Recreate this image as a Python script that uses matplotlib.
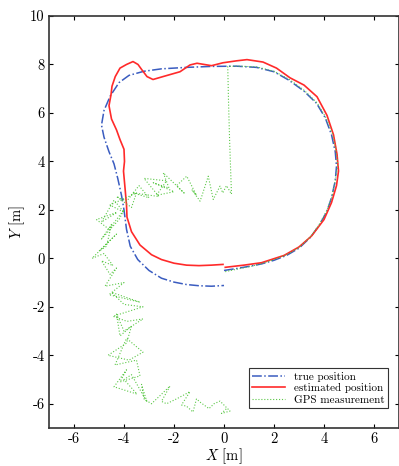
import numpy as np
import matplotlib.pyplot as plt

plt.rcParams['font.family'] = 'serif'
plt.rcParams['font.serif'] = ['cmr10', 'DejaVu Serif']
plt.rcParams['mathtext.fontset'] = 'cm'
plt.rcParams['axes.unicode_minus'] = False
plt.rcParams['axes.formatter.use_mathtext'] = False

# true position (blue dash-dot)
true_x = [0.0, 0.5, 1.0, 1.5, 2.0, 2.5, 3.0, 3.45, 3.8, 4.1, 4.3, 4.45, 4.5, 4.45, 4.3,
          4.05, 3.7, 3.2, 2.6, 2.0, 1.3, 0.5, -0.5, -1.5, -2.5, -3.2, -3.8, -4.2, -4.55,
          -4.8, -4.9, -4.8, -4.6, -4.4, -4.25, -4.1, -4.0, -3.9, -3.75, -3.45, -3.0,
          -2.5, -2.0, -1.5, -1.0, -0.5, 0.0]
true_y = [-0.5, -0.42, -0.33, -0.23, -0.08, 0.12, 0.42, 0.86, 1.35, 1.9, 2.5, 3.2, 3.8,
          4.4, 5.1, 5.8, 6.4, 6.9, 7.35, 7.7, 7.88, 7.93, 7.92, 7.88, 7.82, 7.72, 7.55,
          7.25, 6.7, 6.1, 5.5, 5.0, 4.4, 3.9, 3.3, 2.6, 2.0, 1.2, 0.5, -0.05, -0.5,
          -0.82, -0.98, -1.08, -1.13, -1.15, -1.12]

# estimated position (red)
est_x = [0.05, 0.8, 1.5, 2.4, 3.0, 3.5, 4.0, 4.3, 4.5, 4.58, 4.52, 4.38, 4.12, 3.72,
         3.2, 2.64, 2.1, 1.56, 0.92, 0.5, -0.04, -0.5, -1.08, -1.36, -1.76, -2.1,
         -2.44, -2.84, -3.08, -3.3, -3.44, -3.64, -3.9, -4.16, -4.35, -4.48, -4.52,
         -4.6, -4.5, -4.3, -4.16, -4.0, -3.98, -4.02, -3.95, -3.9, -3.88, -3.7, -3.36,
         -2.9, -2.5, -2.0, -1.5, -1.0, -0.5, -0.04]
est_y = [-0.37, -0.28, -0.18, 0.12, 0.47, 0.92, 1.6, 2.3, 3.0, 3.6, 4.3, 5.1, 5.9,
         6.67, 7.15, 7.45, 7.85, 8.1, 8.2, 8.15, 8.07, 7.95, 8.05, 7.98, 7.7, 7.6,
         7.5, 7.38, 7.5, 7.8, 8.0, 8.12, 8.0, 7.85, 7.5, 7.1, 6.75, 6.3, 5.75, 5.3,
         4.9, 4.5, 4.0, 3.6, 2.8, 2.2, 1.7, 1.1, 0.55, 0.15, -0.05, -0.2, -0.28,
         -0.3, -0.28, -0.25]

# GPS measurement (green dotted)
gps_x = [0.05, 0.5, 1.0, 1.5, 2.0, 2.5, 3.0, 3.45, 3.8, 4.1, 4.32, 4.45, 4.55, 4.48,
         4.35, 4.08, 3.72, 3.22, 2.62, 2.0, 1.3, 0.6, 0.15,
         0.18, 0.22, 0.26, 0.3,
         0.1, -0.05, -0.16, -0.43, -0.63, -0.89, -0.96, -1.29, -1.1, -1.49, -1.9,
         -1.6, -2.43, -2.2, -2.83, -2.0, -2.7, -2.3, -3.2, -2.6, -3.63, -3.0, -3.4,
         -3.89, -4.3, -3.7, -3.5, -4.56, -4.0, -4.4, -4.9, -4.28, -5.1, -4.6, -4.0,
         -4.2, -4.9, -4.5, -4.7, -5.0, -4.3, -5.28, -4.8, -4.44, -4.9, -4.56, -4.3,
         -4.76, -4.0, -4.6, -3.36, -4.5, -4.0, -3.24, -4.44, -3.88, -3.24, -4.0,
         -4.3, -4.16, -3.7, -3.9, -4.64, -3.8, -3.24, -3.9, -4.36, -3.5, -3.36,
         -4.16, -3.9, -4.4, -3.48, -4.0, -3.7, -3.08, -3.3, -3.2, -2.9, -2.16,
         -2.5, -2.3, -1.9, -1.36, -1.7, -1.5, -1.24, -1.1, -0.96, -0.6, -0.4,
         -0.16, 0.24, -0.1, 0.1]
gps_y = [-0.55, -0.45, -0.35, -0.22, -0.05, 0.15, 0.45, 0.88, 1.38, 1.95, 2.55, 3.2,
         3.85, 4.45, 5.1, 5.8, 6.42, 6.92, 7.38, 7.72, 7.9, 7.93, 7.92,
         6.5, 5.0, 3.8, 2.65,
         3.0, 2.7, 2.98, 2.43, 3.39, 2.56, 2.36, 2.84, 2.6, 3.39, 3.0,
         2.7, 3.53, 2.9, 3.12, 2.75, 2.6, 3.2, 3.3, 2.55, 2.7, 2.5, 3.0,
         2.36, 2.55, 2.1, 2.7, 2.2, 1.9, 2.4, 1.5, 1.9, 1.6, 1.2, 2.0,
         1.6, 0.8, 1.4, 0.5, 0.3, 1.0, 0.0, 0.2, -0.3, -0.1, -0.66, -0.4,
         -1.15, -1.0, -1.5, -1.81, -1.4, -1.9, -2.0, -2.39, -2.6, -2.5, -3.0,
         -2.3, -3.2, -2.8, -3.5, -4.0, -4.2, -3.87, -3.3, -4.4, -4.2, -4.85,
         -5.1, -4.6, -5.3, -5.6, -5.0, -4.8, -5.93, -5.2, -5.8, -6.0, -5.27,
         -5.9, -6.0, -5.8, -5.5, -6.05, -6.1, -6.34, -5.8, -5.93, -6.2, -6.0,
         -5.89, -6.3, -6.4, -6.2]

fig = plt.figure(figsize=(3.99, 4.66), dpi=100)
ax = fig.add_axes([49 / 399, 38 / 466, 350 / 399, 412 / 466])

ax.plot(true_x, true_y, color='#3a5cc0', linestyle='-.', linewidth=1.1, label='true position')
ax.plot(est_x, est_y, color='#ff2a2a', linestyle='-', linewidth=1.2, label='estimated position')
ax.plot(gps_x, gps_y, color='#5cc848', linestyle=':', linewidth=0.8, label='GPS measurement')

ax.set_xlim(-7, 7)
ax.set_ylim(-7, 10)
ax.set_xticks([-6, -4, -2, 0, 2, 4, 6])
ax.set_yticks([-6, -4, -2, 0, 2, 4, 6, 8, 10])
ax.tick_params(direction='in', top=True, right=True, labelsize=10.5, length=3, width=0.8,
               pad=3)
for sp in ax.spines.values():
    sp.set_color('#333333')
    sp.set_linewidth(1.2)

ax.set_xlabel('$X$ [m]', fontsize=10.5, labelpad=0)
ax.set_ylabel('$Y$ [m]', fontsize=10.5, labelpad=2)

leg = ax.legend(loc='lower right', fontsize=8, fancybox=False, framealpha=1,
                edgecolor='#333333', handlelength=3, borderpad=0.3, labelspacing=0.15,
                bbox_to_anchor=(0.985, 0.035))
leg.get_frame().set_linewidth(0.8)

fig.savefig('out.png', dpi=100)
